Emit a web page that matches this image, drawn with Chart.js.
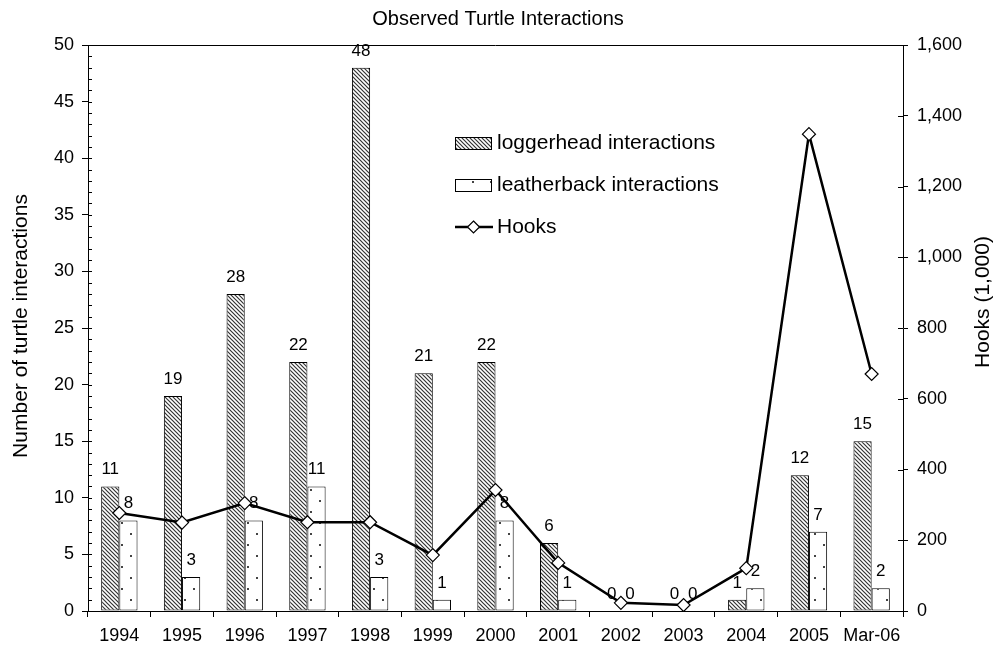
<!DOCTYPE html>
<html>
<head>
<meta charset="utf-8">
<script src="https://cdn.jsdelivr.net/npm/chart.js@4.4.0/dist/chart.umd.min.js"></script>
<style>
  html, body { margin: 0; padding: 0; background: #fff; }
  #wrap { width: 996px; height: 647px; position: relative; }
</style>
</head>
<body>
<div id="wrap"><canvas id="c"></canvas></div>
<script>
const categories = ['1994','1995','1996','1997','1998','1999','2000','2001','2002','2003','2004','2005','Mar-06'];
const loggerhead = [11, 19, 28, 22, 48, 21, 22, 6, 0, 0, 1, 12, 15];
const leatherback = [8, 3, 8, 11, 3, 1, 8, 1, 0, 0, 2, 7, 2];
const hooks = [277, 250, 305, 251, 251, 158, 342, 136, 23, 17, 121, 1348, 670];
const chartTitle = 'Observed Turtle Interactions';
const leftAxisTitle = 'Number of turtle interactions';
const rightAxisTitle = 'Hooks (1,000)';
const seriesNames = ['loggerhead interactions', 'leatherback interactions', 'Hooks'];

const FONT = '"Liberation Sans", Arial, Helvetica, sans-serif';
Chart.defaults.font.family = FONT;
Chart.defaults.color = '#000';

function hatchPattern() {
  const c = document.createElement('canvas');
  c.width = 4; c.height = 4;
  const g = c.getContext('2d');
  g.fillStyle = '#fff'; g.fillRect(0, 0, 4, 4);
  g.strokeStyle = '#333'; g.lineWidth = 1.2;
  g.beginPath();
  g.moveTo(-1, -1); g.lineTo(5, 5);
  g.moveTo(-1, 3); g.lineTo(1, 5);
  g.moveTo(3, -1); g.lineTo(5, 1);
  g.stroke();
  return g.createPattern(c, 'repeat');
}
function dotPattern() {
  const c = document.createElement('canvas');
  c.width = 18; c.height = 22;
  const g = c.getContext('2d');
  g.fillStyle = '#fff'; g.fillRect(0, 0, 18, 22);
  g.fillStyle = '#444';
  g.fillRect(4, 5, 2, 2);
  g.fillRect(13, 16, 2, 2);
  return g.createPattern(c, 'repeat');
}
const HATCH = hatchPattern();
const DOTS = dotPattern();

const labelsPlugin = {
  id: 'barLabels',
  afterDatasetDraw(chart, args) {
    const ds = chart.data.datasets[args.index];
    if (ds.type === 'line') return;
    const ctx = chart.ctx;
    ctx.save();
    ctx.font = '17px ' + FONT;
    ctx.fillStyle = '#000';
    ctx.textAlign = 'center';
    ctx.textBaseline = 'alphabetic';
    args.meta.data.forEach((el, i) => {
      ctx.fillText(String(ds.data[i]), el.x, el.y - 12);
    });
    ctx.restore();
  }
};

const decorPlugin = {
  id: 'decor',
  afterDraw(chart) {
    const ctx = chart.ctx;
    const a = chart.chartArea;
    ctx.save();
    ctx.strokeStyle = '#000'; ctx.lineWidth = 1;
    // top border of plot box
    ctx.beginPath();
    ctx.moveTo(a.left, a.top + 0.5); ctx.lineTo(a.right, a.top + 0.5);
    ctx.stroke();
    // inner ticks on left axis (every unit) and right axis (cross ticks)
    const y = chart.scales.y;
    const y1 = chart.scales.y1;
    ctx.beginPath();
    for (let v = 0; v <= 50; v++) {
      const py = Math.round(y.getPixelForValue(v)) + 0.5;
      ctx.moveTo(a.left, py); ctx.lineTo(a.left + 4, py);
    }
    y1.ticks.forEach(t => {
      const py = Math.round(y1.getPixelForValue(t.value)) + 0.5;
      ctx.moveTo(a.right - 5, py); ctx.lineTo(a.right, py);
    });
    ctx.stroke();
    // axis titles
    ctx.fillStyle = '#000';
    ctx.font = '21px ' + FONT;
    ctx.textAlign = 'center'; ctx.textBaseline = 'middle';
    ctx.save();
    ctx.translate(21, 326);
    ctx.rotate(-Math.PI / 2);
    ctx.fillText(leftAxisTitle, 0, 0);
    ctx.restore();
    ctx.save();
    ctx.translate(983, 302);
    ctx.rotate(-Math.PI / 2);
    ctx.fillText(rightAxisTitle, 0, 0);
    ctx.restore();
    // legend
    ctx.font = '21px ' + FONT;
    ctx.textAlign = 'left'; ctx.textBaseline = 'middle';
    const lx = 455, tx = 497, sw = 36;
    const rows = [143, 185, 227];
    ctx.fillStyle = HATCH; ctx.fillRect(lx, rows[0] - 6, sw, 12);
    ctx.strokeStyle = '#000'; ctx.lineWidth = 1;
    ctx.strokeRect(lx + 0.5, rows[0] - 6 + 0.5, sw, 12);
    ctx.fillStyle = '#000'; ctx.fillText(seriesNames[0], tx, rows[0]);
    ctx.fillStyle = DOTS; ctx.fillRect(lx, rows[1] - 6, sw, 12);
    ctx.strokeRect(lx + 0.5, rows[1] - 6 + 0.5, sw, 12);
    ctx.fillStyle = '#000'; ctx.fillText(seriesNames[1], tx, rows[1]);
    ctx.lineWidth = 2.5;
    ctx.beginPath(); ctx.moveTo(lx, rows[2]); ctx.lineTo(lx + sw + 2, rows[2]); ctx.stroke();
    const cx = lx + 18.5, r = 6;
    ctx.beginPath();
    ctx.moveTo(cx, rows[2] - r); ctx.lineTo(cx + r, rows[2]); ctx.lineTo(cx, rows[2] + r); ctx.lineTo(cx - r, rows[2]); ctx.closePath();
    ctx.fillStyle = '#fff'; ctx.fill();
    ctx.lineWidth = 1.2; ctx.stroke();
    ctx.fillStyle = '#000'; ctx.fillText(seriesNames[2], tx, rows[2]);
    ctx.restore();
  }
};

new Chart(document.getElementById('c'), {
  data: {
    labels: categories,
    datasets: [
      {
        type: 'line', label: seriesNames[2], data: hooks, yAxisID: 'y1', order: 0,
        borderColor: '#000', borderWidth: 2.5, tension: 0,
        pointStyle: 'rectRot', pointRadius: 6.5, pointBackgroundColor: '#fff',
        pointBorderColor: '#000', pointBorderWidth: 1.2
      },
      {
        type: 'bar', label: seriesNames[0], data: loggerhead, yAxisID: 'y', order: 1,
        backgroundColor: HATCH, borderColor: '#000', borderWidth: 1, borderSkipped: false,
        categoryPercentage: 0.58, barPercentage: 1.0
      },
      {
        type: 'bar', label: seriesNames[1], data: leatherback, yAxisID: 'y', order: 1,
        backgroundColor: DOTS, borderColor: '#000', borderWidth: 1, borderSkipped: false,
        categoryPercentage: 0.58, barPercentage: 1.0
      }
    ]
  },
  options: {
    responsive: true, maintainAspectRatio: false, animation: false, events: [],
    layout: { padding: 0 },
    plugins: {
      legend: { display: false },
      tooltip: { enabled: false },
      title: {
        display: true, text: chartTitle, color: '#000',
        font: { size: 20, weight: 'normal', family: FONT },
        padding: { top: 7, bottom: 14 }
      }
    },
    scales: {
      x: {
        offset: true,
        grid: { display: true, drawOnChartArea: false, drawTicks: true, tickLength: 6, color: '#000', offset: true },
        border: { color: '#000', width: 1 },
        ticks: { font: { size: 18 }, color: '#000', padding: 8, maxRotation: 0, autoSkip: false },
        afterFit(s) { s.height = 36; }
      },
      y: {
        position: 'left', min: 0, max: 50,
        grid: { display: true, drawOnChartArea: false, drawTicks: true, tickLength: 6, color: '#000' },
        border: { color: '#000', width: 1 },
        ticks: { stepSize: 5, font: { size: 18 }, color: '#000', padding: 8 },
        afterFit(s) { s.width = 88; }
      },
      y1: {
        position: 'right', min: 0, max: 1600,
        grid: { display: true, drawOnChartArea: false, drawTicks: true, tickLength: 5, color: '#000' },
        border: { color: '#000', width: 1 },
        ticks: { stepSize: 200, font: { size: 18 }, color: '#000', padding: 9,
          callback: v => Number(v).toLocaleString('en-US') },
        afterFit(s) { s.width = 93; }
      }
    }
  },
  plugins: [labelsPlugin, decorPlugin]
});
</script>
</body>
</html>
